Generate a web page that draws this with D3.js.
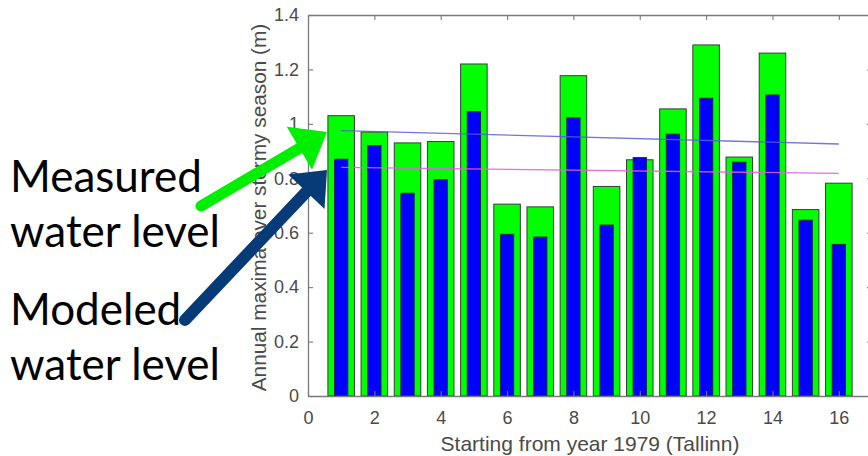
<!DOCTYPE html>
<html>
<head>
<meta charset="utf-8">
<script src="https://cdn.jsdelivr.net/npm/d3@7"></script>
<style>
  body { margin: 0; background: #fff; overflow: hidden; }
  svg { display: block; }
</style>
</head>
<body>
<svg id="chart"></svg>
<script>
// years counted from 1979
const years = [1, 2, 3, 4, 5, 6, 7, 8, 9, 10, 11, 12, 13, 14, 15, 16];
const measured = [1.03, 0.97, 0.93, 0.935, 1.22, 0.705, 0.695, 1.177, 0.77, 0.868, 1.055, 1.29, 0.878, 1.26, 0.685, 0.782];
const modeled = [0.87, 0.92, 0.745, 0.795, 1.045, 0.594, 0.584, 1.022, 0.628, 0.876, 0.962, 1.094, 0.859, 1.106, 0.646, 0.557];
const trendX = [1, 16];
const measuredTrend = [0.975, 0.926];
const modeledTrend = [0.84, 0.818];
const xTicks = [0, 2, 4, 6, 8, 10, 12, 14, 16];
const yTicks = [0, 0.2, 0.4, 0.6, 0.8, 1, 1.2, 1.4];

function makeChart() {
	let w = 868;
	let h = 456;
	let left = 308, right = 872, top = 15, bottom = 396;

	let svg = d3.select('#chart')
		.attr('width', w)
		.attr('height', h);

	let x = d3.scaleLinear().domain([0, 17]).range([left, right]);
	let y = d3.scaleLinear().domain([0, 1.4]).range([bottom, top]);

	let axisColor = '#7a7a7a';
	let font = '"Liberation Sans", Arial, sans-serif';

	// bars: measured (wide, green) then modeled (narrow, blue)
	svg.append('g')
		.selectAll('rect')
		.data(measured)
		.enter()
		.append('rect')
		.attr('x', (d, i) => x(years[i] - 0.4))
		.attr('width', x(0.8) - x(0))
		.attr('y', d => y(d))
		.attr('height', d => y(0) - y(d))
		.attr('fill', '#00ff00')
		.attr('stroke', '#3a3a3a')
		.attr('stroke-width', 1);

	svg.append('g')
		.selectAll('rect')
		.data(modeled)
		.enter()
		.append('rect')
		.attr('x', (d, i) => x(years[i] - 0.2))
		.attr('width', x(0.4) - x(0))
		.attr('y', d => y(d))
		.attr('height', d => y(0) - y(d))
		.attr('fill', '#0000ff')
		.attr('stroke', '#222255')
		.attr('stroke-width', 1);

	// trend lines
	let line = d3.line().x(d => x(d[0])).y(d => y(d[1]));
	svg.append('path')
		.attr('d', line(trendX.map((v, i) => [v, measuredTrend[i]])))
		.attr('fill', 'none')
		.attr('stroke', '#5a5ae0')
		.attr('stroke-opacity', 0.85)
		.attr('stroke-width', 1.3);
	svg.append('path')
		.attr('d', line(trendX.map((v, i) => [v, modeledTrend[i]])))
		.attr('fill', 'none')
		.attr('stroke', '#e060e0')
		.attr('stroke-opacity', 0.9)
		.attr('stroke-width', 1.3);

	// axes (MATLAB style box, ticks inward)
	let gy = svg.append('g')
		.attr('transform', `translate(${left},0)`)
		.call(d3.axisLeft(y).tickValues(yTicks).tickSizeInner(-5).tickSizeOuter(0).tickPadding(9)
			.tickFormat(d => d3.format('')(+d.toFixed(1))));
	let gx = svg.append('g')
		.attr('transform', `translate(0,${bottom})`)
		.call(d3.axisBottom(x).tickValues(xTicks).tickSizeInner(-5).tickSizeOuter(0).tickPadding(15));
	let gt = svg.append('g')
		.attr('transform', `translate(0,${top})`)
		.call(d3.axisBottom(x).tickValues(xTicks).tickSizeInner(5).tickSizeOuter(0).tickFormat(''));
	let gr = svg.append('g')
		.attr('transform', `translate(${right},0)`)
		.call(d3.axisLeft(y).tickValues(yTicks).tickSizeInner(5).tickSizeOuter(0).tickFormat(''));

	[gx, gy, gt, gr].forEach(g => {
		g.select('.domain').attr('stroke', axisColor).attr('stroke-width', 1.3);
		g.selectAll('.tick line').attr('stroke', axisColor).attr('stroke-width', 1.1);
		g.selectAll('.tick text')
			.attr('fill', '#4a4a4a')
			.style('font-family', font)
			.style('font-size', '18px');
	});
	gx.selectAll('.tick text').attr('dy', '0.71em');

	// axis labels
	svg.append('text')
		.attr('x', (left + right) / 2)
		.attr('y', 451)
		.attr('text-anchor', 'middle')
		.attr('fill', '#4a4a4a')
		.style('font-family', font)
		.style('font-size', '21px')
		.text('Starting from year 1979 (Tallinn)');
	svg.append('text')
		.attr('transform', `translate(266,${(top + bottom) / 2 + 2}) rotate(-90)`)
		.attr('text-anchor', 'middle')
		.attr('fill', '#4a4a4a')
		.style('font-family', font)
		.style('font-size', '20.8px')
		.text('Annual maxima over stormy season (m)');

	// annotation arrows
	function arrow(x1, y1, x2, y2, color, width, headLen, headHalf) {
		let dx = x2 - x1, dy = y2 - y1;
		let len = Math.sqrt(dx * dx + dy * dy);
		let ux = dx / len, uy = dy / len;
		let bx = x2 - ux * headLen, by = y2 - uy * headLen;
		svg.append('line')
			.attr('x1', x1).attr('y1', y1)
			.attr('x2', bx + ux * 2).attr('y2', by + uy * 2)
			.attr('stroke', color)
			.attr('stroke-width', width)
			.attr('stroke-linecap', 'round');
		svg.append('path')
			.attr('d', `M${x2},${y2}L${bx - uy * headHalf},${by + ux * headHalf}L${bx + uy * headHalf},${by - ux * headHalf}Z`)
			.attr('fill', color);
	}
	arrow(201, 206, 327, 132, '#00ee00', 11, 32, 25);
	arrow(185, 320, 327, 170, '#073b78', 12, 30, 25);

	// annotation text
	let notes = [
		{ t: 'Measured', y: 192 },
		{ t: 'water level', y: 247 },
		{ t: 'Modeled', y: 325 },
		{ t: 'water level', y: 380 }
	];
	svg.append('g')
		.selectAll('text')
		.data(notes)
		.enter()
		.append('text')
		.attr('x', 10)
		.attr('y', d => d.y)
		.attr('fill', '#000')
		.style('font-family', 'Lato, "Open Sans", sans-serif')
		.style('font-size', '44px')
		.text(d => d.t);
}

window.onload = function () {
	makeChart();
}
</script>
</body>
</html>
